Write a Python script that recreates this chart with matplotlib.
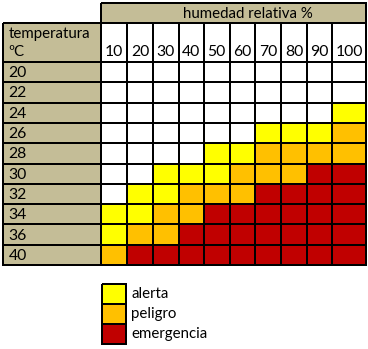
import matplotlib
matplotlib.use("Agg")
import matplotlib.pyplot as plt
from matplotlib.colors import ListedColormap, BoundaryNorm
import numpy as np

# ---- data ----
humidity = ["10", "20", "30", "40", "50", "60", "70", "80", "90", "100"]
temperature = ["20", "22", "24", "26", "28", "30", "32", "34", "36", "40"]
# 0 = none, 1 = alerta, 2 = peligro, 3 = emergencia
levels = [
    [0, 0, 0, 0, 0, 0, 0, 0, 0, 0],
    [0, 0, 0, 0, 0, 0, 0, 0, 0, 0],
    [0, 0, 0, 0, 0, 0, 0, 0, 0, 1],
    [0, 0, 0, 0, 0, 0, 1, 1, 1, 2],
    [0, 0, 0, 0, 1, 1, 2, 2, 2, 2],
    [0, 0, 1, 1, 1, 2, 2, 2, 3, 3],
    [0, 1, 1, 2, 2, 2, 3, 3, 3, 3],
    [1, 1, 2, 2, 3, 3, 3, 3, 3, 3],
    [1, 2, 2, 3, 3, 3, 3, 3, 3, 3],
    [2, 3, 3, 3, 3, 3, 3, 3, 3, 3],
]
legend_labels = ["alerta", "peligro", "emergencia"]
header_top = "humedad relativa %"

# ---- style ----
colors = ["#FFFFFF", "#FFFF00", "#FFC000", "#C00000"]
tan = "#C4BD97"
font = "Lato"
fs = 10.8
fs_num = 11.3
lw = 1.4

W, H = 368, 349
fig = plt.figure(figsize=(W / 100, H / 100), dpi=100)
ax = fig.add_axes([0, 0, 1, 1])
ax.set_xlim(0, W)
ax.set_ylim(H, 0)
ax.axis("off")

# layout (pixel positions)
col_edges = np.array([101, 127, 153, 178.5, 204, 229.5, 255, 281, 307, 332, 366])
row_top = 62.0
row_h = 20.3
row_edges = row_top + row_h * np.arange(len(temperature) + 1)
label_x0 = 2.5
hdr_y0, hdr_y1 = 2.5, 22.5

cmap = ListedColormap(colors)
norm = BoundaryNorm([-0.5, 0.5, 1.5, 2.5, 3.5], cmap.N)

# data cells
ax.pcolormesh(col_edges, row_edges, np.array(levels), cmap=cmap, norm=norm,
              edgecolors="black", linewidth=lw)

# temperature label column
ax.pcolormesh([label_x0, col_edges[0]], row_edges, np.zeros((len(temperature), 1)),
              cmap=ListedColormap([tan]), edgecolors="black", linewidth=lw)
for i, t in enumerate(temperature):
    ax.text(label_x0 + 6, (row_edges[i] + row_edges[i + 1]) / 2 + 1, t,
            ha="left", va="center", fontsize=fs_num, family=font)

# header "temperatura ºC"
ax.pcolormesh([label_x0, col_edges[0]], [hdr_y1, row_top], np.zeros((1, 1)),
              cmap=ListedColormap([tan]), edgecolors="black", linewidth=lw)
ax.text(label_x0 + 6, 27, "temperatura", ha="left", va="top", fontsize=fs, family=font)
ax.text(label_x0 + 6, 45, "ºC", ha="left", va="top", fontsize=fs, family=font)

# humidity column labels
ax.pcolormesh(col_edges, [hdr_y1, row_top], np.zeros((1, len(humidity))),
              cmap=ListedColormap(["white"]), edgecolors="black", linewidth=lw)
for j, h in enumerate(humidity):
    ax.text((col_edges[j] + col_edges[j + 1]) / 2, 59, h, ha="center", va="bottom",
            fontsize=fs_num, family=font)

# top header
ax.pcolormesh([col_edges[0], col_edges[-1]], [hdr_y0, hdr_y1], np.zeros((1, 1)),
              cmap=ListedColormap([tan]), edgecolors="black", linewidth=lw)
ax.text(248, (hdr_y0 + hdr_y1) / 2 + 1, header_top, ha="center", va="center",
        fontsize=fs, family=font)

# legend
leg_x = [101.5, 126]
leg_top = 283.5
leg_h = 20.3
leg_edges = leg_top + leg_h * np.arange(len(legend_labels) + 1)
ax.pcolormesh(leg_x, leg_edges, np.arange(1, len(legend_labels) + 1).reshape(-1, 1),
              cmap=cmap, norm=norm, edgecolors="black", linewidth=lw)
for k, lab in enumerate(legend_labels):
    ax.text(131.5, (leg_edges[k] + leg_edges[k + 1]) / 2, lab, ha="left", va="center",
            fontsize=fs, family=font)

fig.savefig("out.png", dpi=100)
